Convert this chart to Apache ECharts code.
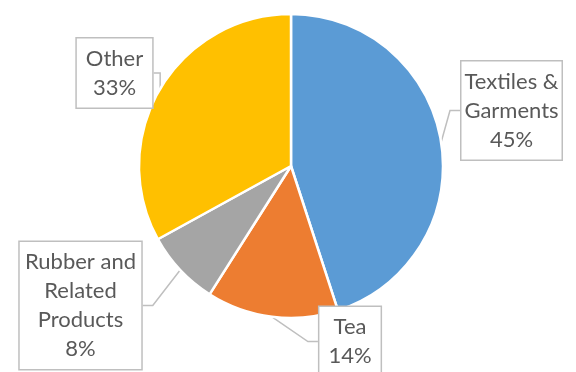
<!DOCTYPE html>
<html>
<head>
<meta charset="utf-8">
<script src="https://cdn.jsdelivr.net/npm/echarts@6/dist/echarts.min.js"></script>
<style>
html,body{margin:0;padding:0;background:#fff;}
#chart{width:576px;height:372px;}
</style>
</head>
<body>
<div id="chart"></div>
<script>
var categories = ['Textiles &\nGarments', 'Tea', 'Rubber and\nRelated\nProducts', 'Other'];
var values = [45, 14, 8, 33];
var colors = ['#5B9BD5', '#ED7D31', '#A5A5A5', '#FFC000'];
// label box centres (layout only)
var labelCenters = [[511.5, 110.5], [350, 341.5], [80.5, 305.5], [114.5, 73]];

var chart = echarts.init(document.getElementById('chart'), null, {renderer: 'canvas'});
var data = categories.map(function (c, i) {
  return {name: c, value: values[i], itemStyle: {color: colors[i]}};
});
chart.setOption({
  animation: false,
  series: [{
    type: 'pie',
    center: [291, 166],
    radius: 152,
    startAngle: 90,
    clockwise: true,
    data: data,
    itemStyle: {borderColor: '#fff', borderWidth: 2.5},
    label: {
      show: true,
      position: 'outside',
      alignTo: 'none',
      overflow: 'none',
      formatter: function (p) { return p.name + '\n' + Math.round(p.percent) + '%'; },
      fontFamily: 'Lato',
      fontSize: 22,
      lineHeight: 29,
      color: '#595959',
      align: 'center',
      backgroundColor: '#fff',
      borderColor: '#BFBFBF',
      borderWidth: 1.5,
      padding: [11, 9, 0, 9]
    },
    labelLine: {
      show: true,
      length: 10,
      length2: 10,
      lineStyle: {color: '#BFBFBF', width: 1.5}
    },
    labelLayout: function (params) {
      var c = labelCenters[params.dataIndex];
      return {x: c[0], y: c[1], align: 'center', verticalAlign: 'middle'};
    },
    emphasis: {disabled: true}
  }]
});
</script>
</body>
</html>
